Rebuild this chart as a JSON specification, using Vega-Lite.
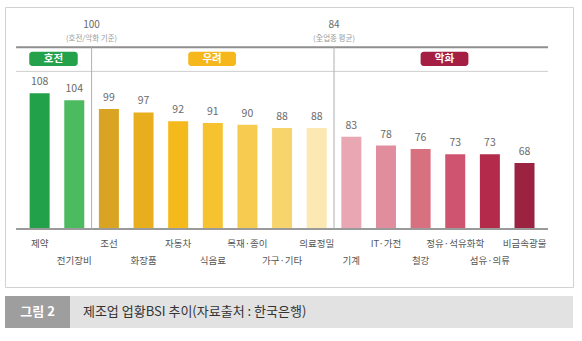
{
  "$schema": "https://vega.github.io/schema/vega-lite/v6.json",
  "autosize": "none",
  "width": 568,
  "height": 280,
  "padding": {"left": 5, "top": 7, "right": 9, "bottom": 54},
  "background": "white",
  "config": {
    "view": {"stroke": "#d2d2d2", "strokeWidth": 1},
    "font": "Noto Sans CJK KR",
    "text": {"font": "Noto Sans CJK KR"}
  },
  "datasets": {
    "bsi": [
      {"name": "제약", "value": 108, "group": "호전"},
      {"name": "전기장비", "value": 104, "group": "호전"},
      {"name": "조선", "value": 99, "group": "우려"},
      {"name": "화장품", "value": 97, "group": "우려"},
      {"name": "자동차", "value": 92, "group": "우려"},
      {"name": "식음료", "value": 91, "group": "우려"},
      {"name": "목재·종이", "value": 90, "group": "우려"},
      {"name": "가구·기타", "value": 88, "group": "우려"},
      {"name": "의료정밀", "value": 88, "group": "우려"},
      {"name": "기계", "value": 83, "group": "악화"},
      {"name": "IT·가전", "value": 78, "group": "악화"},
      {"name": "철강", "value": 76, "group": "악화"},
      {"name": "정유·석유화학", "value": 73, "group": "악화"},
      {"name": "섬유·의류", "value": 73, "group": "악화"},
      {"name": "비금속광물", "value": 68, "group": "악화"}
    ]
  },
  "resolve": {"scale": {"x": "independent"}},
  "layer": [
    {
      "data": {"name": "bsi"},
      "encoding": {
        "x": {
          "field": "name", "type": "nominal", "sort": null,
          "scale": {"paddingInner": 0.4225, "paddingOuter": 0.9113, "align": 0.3903, "round": false},
          "axis": null
        }
      },
      "layer": [
        {
          "mark": {"type": "bar"},
          "encoding": {
            "y": {"field": "value", "type": "quantitative", "scale": {"domain": [-3.3, 157.6], "nice": false, "zero": false}, "axis": null},
            "y2": {"datum": 30},
            "color": {
              "field": "name", "type": "nominal", "legend": null,
              "scale": {
                "domain": ["제약", "전기장비", "조선", "화장품", "자동차", "식음료", "목재·종이", "가구·기타", "의료정밀", "기계", "IT·가전", "철강", "정유·석유화학", "섬유·의류", "비금속광물"],
                "range": ["#22a14a", "#4cba5f", "#d9a324", "#e9ae1e", "#f4b91a", "#f6c22f", "#f7cb4f", "#f8d56c", "#fbe8b3", "#e9a7b4", "#e08e9e", "#d8717f", "#cf5470", "#b42a4a", "#9b2240"]
              }
            }
          }
        },
        {
          "mark": {"type": "text", "baseline": "bottom", "dy": -6, "fontSize": 10.5, "color": "#6a6a6a"},
          "encoding": {
            "y": {"field": "value", "type": "quantitative", "scale": {"domain": [-3.3, 157.6], "nice": false, "zero": false}, "axis": null},
            "text": {"field": "value", "type": "quantitative"}
          }
        },
        {
          "transform": [{"filter": {"field": "name", "oneOf": ["제약", "조선", "자동차", "목재·종이", "의료정밀", "IT·가전", "정유·석유화학", "비금속광물"]}}],
          "mark": {"type": "text", "baseline": "middle", "fontSize": 9.5, "color": "#555555"},
          "encoding": {
            "y": {"datum": 21.4, "type": "quantitative", "scale": {"domain": [-3.3, 157.6], "nice": false, "zero": false}, "axis": null},
            "text": {"field": "name", "type": "nominal"}
          }
        },
        {
          "transform": [{"filter": {"field": "name", "oneOf": ["전기장비", "화장품", "식음료", "가구·기타", "기계", "철강", "섬유·의류"]}}],
          "mark": {"type": "text", "baseline": "middle", "fontSize": 9.5, "color": "#555555"},
          "encoding": {
            "y": {"datum": 11.9, "type": "quantitative", "scale": {"domain": [-3.3, 157.6], "nice": false, "zero": false}, "axis": null},
            "text": {"field": "name", "type": "nominal"}
          }
        }
      ]
    },
    {
      "data": {"values": [{}]},
      "layer": [
        {
          "mark": {"type": "rule", "color": "#8f8f8f", "strokeWidth": 2},
          "encoding": {
            "x": {"datum": 0.32, "type": "quantitative", "scale": {"domain": [0, 16.4], "nice": false, "zero": false}, "axis": null},
            "x2": {"datum": 15.68},
            "y": {"datum": 134.4, "type": "quantitative", "scale": {"domain": [-3.3, 157.6], "nice": false, "zero": false}, "axis": null}
          }
        },
        {
          "mark": {"type": "rule", "color": "#cfcfcf", "strokeWidth": 1},
          "encoding": {
            "x": {"datum": 0.32, "type": "quantitative", "scale": {"domain": [0, 16.4], "nice": false, "zero": false}, "axis": null},
            "x2": {"datum": 15.68},
            "y": {"datum": 120.6, "type": "quantitative", "scale": {"domain": [-3.3, 157.6], "nice": false, "zero": false}, "axis": null}
          }
        },
        {
          "mark": {"type": "rule", "color": "#9a9a9a", "strokeWidth": 2},
          "encoding": {
            "x": {"datum": 0.32, "type": "quantitative", "scale": {"domain": [0, 16.4], "nice": false, "zero": false}, "axis": null},
            "x2": {"datum": 15.68},
            "y": {"datum": 30, "type": "quantitative", "scale": {"domain": [-3.3, 157.6], "nice": false, "zero": false}, "axis": null}
          }
        },
        {
          "mark": {"type": "rule", "color": "#b0b0b0", "strokeWidth": 1},
          "encoding": {
            "x": {"datum": 2.5, "type": "quantitative", "scale": {"domain": [0, 16.4], "nice": false, "zero": false}, "axis": null},
            "y": {"datum": 134.4, "type": "quantitative", "scale": {"domain": [-3.3, 157.6], "nice": false, "zero": false}, "axis": null},
            "y2": {"datum": 30}
          }
        },
        {
          "mark": {"type": "rule", "color": "#b0b0b0", "strokeWidth": 1},
          "encoding": {
            "x": {"datum": 9.5, "type": "quantitative", "scale": {"domain": [0, 16.4], "nice": false, "zero": false}, "axis": null},
            "y": {"datum": 134.4, "type": "quantitative", "scale": {"domain": [-3.3, 157.6], "nice": false, "zero": false}, "axis": null},
            "y2": {"datum": 30}
          }
        },
        {
          "mark": {"type": "rect", "color": "#23a14b", "cornerRadius": 3},
          "encoding": {
            "x": {"datum": 0.70, "type": "quantitative", "scale": {"domain": [0, 16.4], "nice": false, "zero": false}, "axis": null},
            "x2": {"datum": 2.10},
            "y": {"datum": 131.9, "type": "quantitative", "scale": {"domain": [-3.3, 157.6], "nice": false, "zero": false}, "axis": null},
            "y2": {"datum": 123.7}
          }
        },
        {
          "mark": {"type": "rect", "color": "#f5b71b", "cornerRadius": 3},
          "encoding": {
            "x": {"datum": 5.29, "type": "quantitative", "scale": {"domain": [0, 16.4], "nice": false, "zero": false}, "axis": null},
            "x2": {"datum": 6.67},
            "y": {"datum": 131.9, "type": "quantitative", "scale": {"domain": [-3.3, 157.6], "nice": false, "zero": false}, "axis": null},
            "y2": {"datum": 123.7}
          }
        },
        {
          "mark": {"type": "rect", "color": "#a51f45", "cornerRadius": 3},
          "encoding": {
            "x": {"datum": 12.0, "type": "quantitative", "scale": {"domain": [0, 16.4], "nice": false, "zero": false}, "axis": null},
            "x2": {"datum": 13.38},
            "y": {"datum": 131.9, "type": "quantitative", "scale": {"domain": [-3.3, 157.6], "nice": false, "zero": false}, "axis": null},
            "y2": {"datum": 123.7}
          }
        },
        {
          "mark": {"type": "text", "color": "white", "fontSize": 10.5, "fontWeight": "bold", "baseline": "middle"},
          "encoding": {
            "x": {"datum": 1.40, "type": "quantitative", "scale": {"domain": [0, 16.4], "nice": false, "zero": false}, "axis": null},
            "y": {"datum": 127.8, "type": "quantitative", "scale": {"domain": [-3.3, 157.6], "nice": false, "zero": false}, "axis": null},
            "text": {"value": "호전"}
          }
        },
        {
          "mark": {"type": "text", "color": "white", "fontSize": 10.5, "fontWeight": "bold", "baseline": "middle"},
          "encoding": {
            "x": {"datum": 5.98, "type": "quantitative", "scale": {"domain": [0, 16.4], "nice": false, "zero": false}, "axis": null},
            "y": {"datum": 127.8, "type": "quantitative", "scale": {"domain": [-3.3, 157.6], "nice": false, "zero": false}, "axis": null},
            "text": {"value": "우려"}
          }
        },
        {
          "mark": {"type": "text", "color": "white", "fontSize": 10.5, "fontWeight": "bold", "baseline": "middle"},
          "encoding": {
            "x": {"datum": 12.69, "type": "quantitative", "scale": {"domain": [0, 16.4], "nice": false, "zero": false}, "axis": null},
            "y": {"datum": 127.8, "type": "quantitative", "scale": {"domain": [-3.3, 157.6], "nice": false, "zero": false}, "axis": null},
            "text": {"value": "악화"}
          }
        },
        {
          "mark": {"type": "text", "color": "#6a6a6a", "fontSize": 10, "baseline": "bottom"},
          "encoding": {
            "x": {"datum": 2.5, "type": "quantitative", "scale": {"domain": [0, 16.4], "nice": false, "zero": false}, "axis": null},
            "y": {"datum": 144.1, "type": "quantitative", "scale": {"domain": [-3.3, 157.6], "nice": false, "zero": false}, "axis": null},
            "text": {"value": "100"}
          }
        },
        {
          "mark": {"type": "text", "color": "#9a9a9a", "fontSize": 7.5, "baseline": "top"},
          "encoding": {
            "x": {"datum": 2.5, "type": "quantitative", "scale": {"domain": [0, 16.4], "nice": false, "zero": false}, "axis": null},
            "y": {"datum": 141.5, "type": "quantitative", "scale": {"domain": [-3.3, 157.6], "nice": false, "zero": false}, "axis": null},
            "text": {"value": "(호전/악화 기준)"}
          }
        },
        {
          "mark": {"type": "text", "color": "#6a6a6a", "fontSize": 10, "baseline": "bottom"},
          "encoding": {
            "x": {"datum": 9.5, "type": "quantitative", "scale": {"domain": [0, 16.4], "nice": false, "zero": false}, "axis": null},
            "y": {"datum": 144.1, "type": "quantitative", "scale": {"domain": [-3.3, 157.6], "nice": false, "zero": false}, "axis": null},
            "text": {"value": "84"}
          }
        },
        {
          "mark": {"type": "text", "color": "#9a9a9a", "fontSize": 7.5, "baseline": "top"},
          "encoding": {
            "x": {"datum": 9.5, "type": "quantitative", "scale": {"domain": [0, 16.4], "nice": false, "zero": false}, "axis": null},
            "y": {"datum": 141.5, "type": "quantitative", "scale": {"domain": [-3.3, 157.6], "nice": false, "zero": false}, "axis": null},
            "text": {"value": "(全업종 평균)"}
          }
        },
        {
          "mark": {"type": "rect", "color": "#9e9e9e"},
          "encoding": {
            "x": {"datum": 0, "type": "quantitative", "scale": {"domain": [0, 16.4], "nice": false, "zero": false}, "axis": null},
            "x2": {"datum": 1.877},
            "y": {"datum": -8.5, "type": "quantitative", "scale": {"domain": [-3.3, 157.6], "nice": false, "zero": false}, "axis": null},
            "y2": {"datum": -26.9}
          }
        },
        {
          "mark": {"type": "rect", "color": "#e2e2e2"},
          "encoding": {
            "x": {"datum": 1.877, "type": "quantitative", "scale": {"domain": [0, 16.4], "nice": false, "zero": false}, "axis": null},
            "x2": {"datum": 16.4},
            "y": {"datum": -8.5, "type": "quantitative", "scale": {"domain": [-3.3, 157.6], "nice": false, "zero": false}, "axis": null},
            "y2": {"datum": -26.9}
          }
        },
        {
          "mark": {"type": "text", "color": "white", "fontSize": 13, "fontWeight": "bold", "baseline": "middle"},
          "encoding": {
            "x": {"datum": 0.94, "type": "quantitative", "scale": {"domain": [0, 16.4], "nice": false, "zero": false}, "axis": null},
            "y": {"datum": -17.7, "type": "quantitative", "scale": {"domain": [-3.3, 157.6], "nice": false, "zero": false}, "axis": null},
            "text": {"value": "그림 2"}
          }
        },
        {
          "mark": {"type": "text", "color": "#333333", "fontSize": 13, "align": "left", "baseline": "middle"},
          "encoding": {
            "x": {"datum": 2.25, "type": "quantitative", "scale": {"domain": [0, 16.4], "nice": false, "zero": false}, "axis": null},
            "y": {"datum": -17.7, "type": "quantitative", "scale": {"domain": [-3.3, 157.6], "nice": false, "zero": false}, "axis": null},
            "text": {"value": "제조업 업황BSI 추이(자료출처 : 한국은행)"}
          }
        }
      ]
    }
  ]
}
